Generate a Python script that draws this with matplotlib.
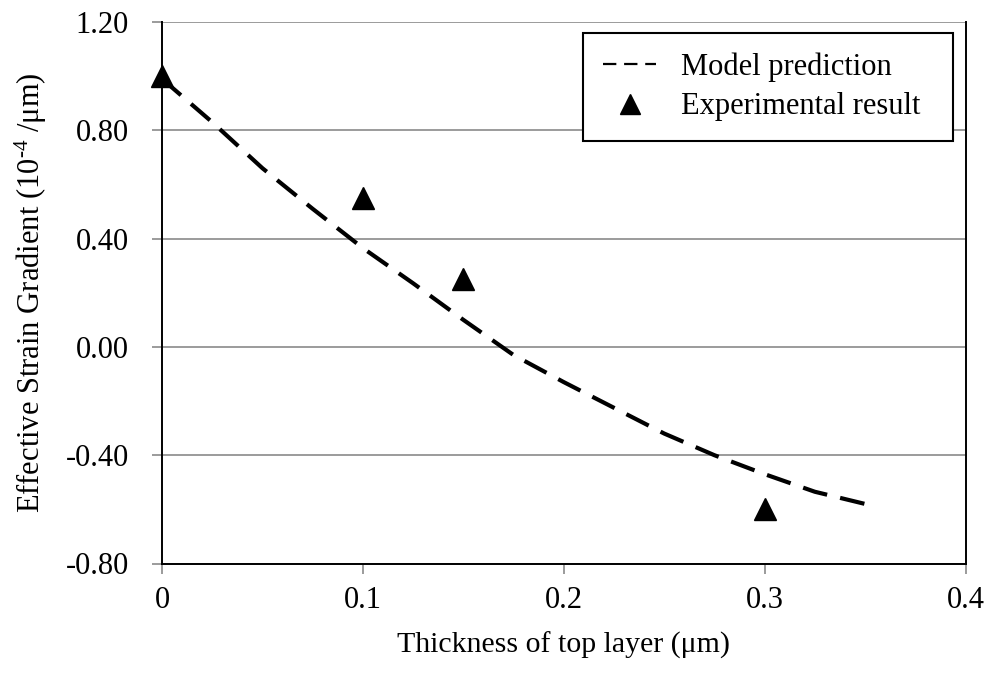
import matplotlib
matplotlib.use("Agg")
import matplotlib.pyplot as plt
from matplotlib.lines import Line2D

# Data
model_x = [0.0, 0.025, 0.05, 0.075, 0.1, 0.125, 0.15, 0.175, 0.2, 0.225, 0.25, 0.275, 0.3, 0.325, 0.35]
model_y = [0.99, 0.83, 0.66, 0.51, 0.365, 0.235, 0.10, -0.03, -0.13, -0.225, -0.32, -0.40, -0.47, -0.535, -0.58]
exp_x = [0.0, 0.1, 0.15, 0.3]
exp_y = [1.00, 0.55, 0.25, -0.60]
xticks = [0, 0.1, 0.2, 0.3, 0.4]
xtick_labels = ["0", "0.1", "0.2", "0.3", "0.4"]
yticks = [-0.80, -0.40, 0.00, 0.40, 0.80, 1.20]
ytick_labels = ["-0.80", "-0.40", "0.00", "0.40", "0.80", "1.20"]

plt.rcParams['font.family'] = ['Liberation Serif', 'DejaVu Serif']
plt.rcParams['mathtext.fontset'] = 'custom'
plt.rcParams['mathtext.rm'] = 'Liberation Serif'
plt.rcParams['mathtext.it'] = 'Liberation Serif:italic'

fig = plt.figure(figsize=(9.89, 6.86), dpi=100)
ax = fig.add_axes([162/989, 1-563.5/686, (965.5-162)/989, (563.5-22)/686])

grid_c = '#808080'
for y in yticks:
    ax.axhline(y, color=grid_c, lw=1.1, zorder=1)

ax.plot(model_x, model_y, color='black', lw=3.0, dashes=(6, 3.2), zorder=3,
        label='Model prediction')
ax.plot(exp_x, exp_y, linestyle='none', marker='^', markersize=15.5, color='black',
        zorder=4, clip_on=False, label='Experimental result')

ax.set_xlim(0, 0.4)
ax.set_ylim(-0.80, 1.20)
ax.set_xticks(xticks)
ax.set_xticklabels(xtick_labels)
ax.set_yticks(yticks)
ax.set_yticklabels(ytick_labels)

ax.spines['top'].set_visible(False)
for s in ['left', 'bottom', 'right']:
    ax.spines[s].set_color('black')
    ax.spines[s].set_linewidth(1.4)

fs = 22
ax.tick_params(axis='y', direction='out', length=7, width=1.1, color=grid_c,
               labelsize=fs, pad=17)
ax.tick_params(axis='x', direction='out', length=7, width=1.1, color=grid_c,
               labelsize=fs, pad=9)

ax.set_xlabel('Thickness of top layer (\u03bcm)', fontsize=21.5, labelpad=12)
ax.set_ylabel('Effective Strain Gradient (10$^{\\text{-}4}$ /\u03bcm)', fontsize=22, labelpad=12)

handles = [Line2D([], [], color='black', lw=1.6, dashes=(6, 3.5)),
           Line2D([], [], linestyle='none', marker='^', markersize=15, color='black')]
x0 = (583 - 162) / 803.5
w = (953 - 583) / 803.5
leg = ax.legend(handles, ['Model prediction', 'Experimental result'],
                loc='upper left', bbox_to_anchor=(x0, 0.5, w, 0.48), mode='expand',
                fontsize=fs, frameon=True, fancybox=False, framealpha=1,
                edgecolor='black', borderpad=0.65, handlelength=1.75,
                handletextpad=0.8, labelspacing=0.33, borderaxespad=0)
leg.get_frame().set_linewidth(1.5)

fig.savefig('out.png', dpi=100)
